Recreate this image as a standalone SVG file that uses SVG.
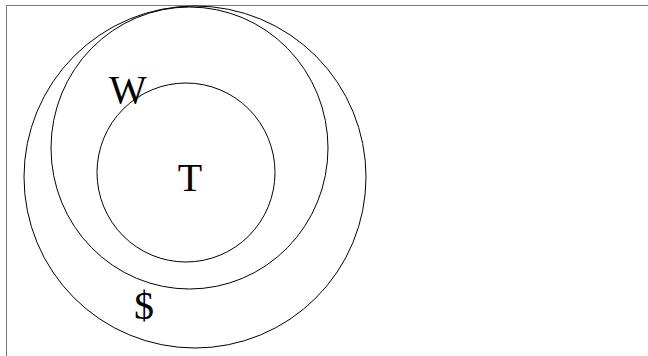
<svg xmlns="http://www.w3.org/2000/svg" width="648" height="356" viewBox="0 0 648 356">
<style>
.c{fill:none;stroke:#000;stroke-width:1}
.t{font-family:"Liberation Serif","Times New Roman",serif;font-size:40px;fill:#000;text-anchor:middle}
</style>
<rect width="648" height="356" fill="#fff"/>
<path d="M6.5,356 V5.5 H648" fill="none" stroke="#777" stroke-width="1"/>
<g id="outer"><ellipse class="c" cx="195" cy="177" rx="171" ry="171"/><text class="t" x="144" y="319">$</text></g>
<g id="middle"><ellipse class="c" cx="189.5" cy="148" rx="138.5" ry="141"/><text class="t" x="128" y="103">W</text></g>
<g id="inner"><ellipse class="c" cx="186" cy="172.5" rx="89" ry="89.5"/><text class="t" x="190" y="191">T</text></g>
<g id="connectors"/>
</svg>
